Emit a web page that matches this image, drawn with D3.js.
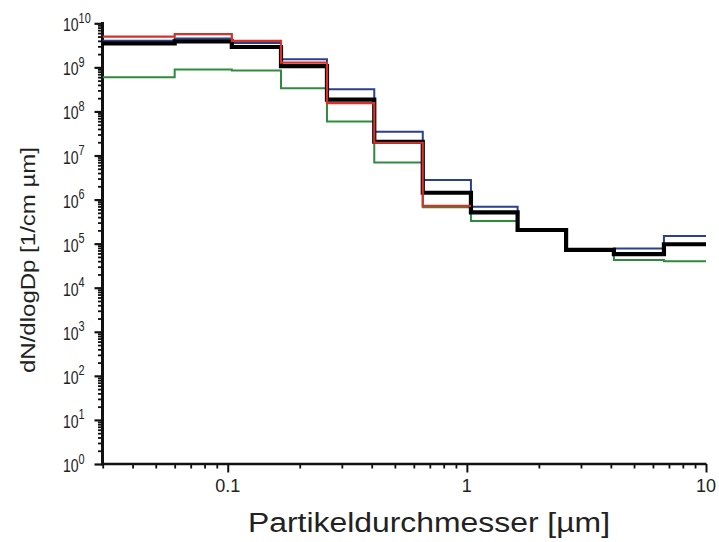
<!DOCTYPE html>
<html>
<head>
<meta charset="utf-8">
<script src="https://cdn.jsdelivr.net/npm/d3@7"></script>
<style>
  body { margin: 0; background: #fff; }
  svg { display: block; font-family: "Liberation Sans", Arial, sans-serif; }
</style>
</head>
<body>
<svg id="chart" width="719" height="542"></svg>
<script>
// bin edges of the impactor stages [µm]
var binEdges = [0.03, 0.06, 0.104, 0.167, 0.26, 0.41, 0.654, 1.04, 1.63, 2.6, 4.12, 6.67, 10];

// dN/dlogDp per stage, one array per series
var greenValues = [5.95e8, 9.0e8, 8.5e8, 3.35e8, 5.9e7, 6.9e6, 6.7e5, 3.27e5, 2.04e5, 7.2e4, 4.25e4, 4.0e4];
var blueValues  = [4.0e9, 4.5e9, 3.55e9, 1.52e9, 3.2e8, 3.47e7, 2.77e6, 6.9e5, 2.04e5, 7.2e4, 7.8e4, 1.49e5];
var blackValues = [3.5e9, 3.9e9, 2.9e9, 1.07e9, 1.85e8, 2.05e7, 1.43e6, 5.1e5, 2.04e5, 7.2e4, 5.8e4, 9.7e4];
var redValues   = [5.0e9, 5.7e9, 4.0e9, 1.28e9, 1.55e8, 1.95e7, 7.2e5];

var xMajorTicks = [0.1, 1, 10];
var xTickLabels = ["0.1", "1", "10"];
var yExponents = [0, 1, 2, 3, 4, 5, 6, 7, 8, 9, 10];

var svg = d3.select("#chart");

var x = d3.scaleLog().domain([0.03, 10]).range([102.7, 706]);
var y = d3.scaleLog().domain([1, 1e10]).range([464, 23.3]);

var textColor = "#222";

// minor tick values for the x axis (2..9 of each decade inside the domain)
var xMinor = [];
[0.01, 0.1, 1].forEach(function (dec) {
    for (var k = 2; k <= 9; k++) {
        var v = +(k * dec).toPrecision(3);
        if (v >= 0.03 && v <= 10) { xMinor.push(v); }
    }
});

var yMinor = [];
yExponents.slice(0, -1).forEach(function (e) {
    for (var k = 2; k <= 9; k++) { yMinor.push(k * Math.pow(10, e)); }
});
var yMajor = yExponents.map(function (e) { return Math.pow(10, e); });

/////////////
// axes
/////////////

function styleAxis(g, width) {
    g.select(".domain").remove();
    g.selectAll(".tick line").attr("stroke", "#111").attr("stroke-width", width);
    g.selectAll(".tick text").remove();
}

svg.append("g")
    .attr("transform", "translate(0,464)")
    .call(d3.axisBottom(x).tickValues(xMinor).tickSize(4.5))
    .call(styleAxis, 1.8);

svg.append("g")
    .attr("transform", "translate(0,464)")
    .call(d3.axisBottom(x).tickValues(xMajorTicks).tickSize(8.5))
    .call(styleAxis, 2);

svg.append("g")
    .attr("transform", "translate(102.5,0)")
    .call(d3.axisLeft(y).tickValues(yMinor).tickSize(4.5))
    .call(styleAxis, 1.8);

svg.append("g")
    .attr("transform", "translate(102.5,0)")
    .call(d3.axisLeft(y).tickValues(yMajor).tickSize(8))
    .call(styleAxis, 2.2);

// axis lines
svg.append("line")
    .attr("x1", 101).attr("x2", 706.5)
    .attr("y1", 464).attr("y2", 464)
    .attr("stroke", "#111").attr("stroke-width", 2.6);

svg.append("line")
    .attr("x1", 102.5).attr("x2", 102.5)
    .attr("y1", 22).attr("y2", 465.3)
    .attr("stroke", "#111").attr("stroke-width", 3);

// x tick labels
svg.selectAll(".xlab")
    .data(xMajorTicks)
    .enter()
    .append("text")
        .attr("class", "xlab")
        .attr("x", function (d) { return x(d); })
        .attr("y", 492)
        .attr("text-anchor", "middle")
        .attr("font-size", 18)
        .attr("fill", textColor)
        .text(function (d, i) { return xTickLabels[i]; });

// y tick labels 10^n, one text each, squeezed like the original
var ylab = svg.selectAll(".ylab")
    .data(yExponents)
    .enter()
    .append("text")
        .attr("class", "ylab")
        .attr("transform", function (d) { return "translate(63," + (y(Math.pow(10, d)) + 8) + ") scale(0.78,1)"; })
        .attr("font-size", 18)
        .attr("fill", textColor);

ylab.append("tspan").text("10");
ylab.append("tspan")
    .attr("font-size", 14)
    .attr("dy", -8.5)
    .text(function (d) { return d; });

// axis titles
svg.append("text")
    .attr("x", 429)
    .attr("y", 532)
    .attr("text-anchor", "middle")
    .attr("font-size", 27)
    .attr("textLength", 362)
    .attr("lengthAdjust", "spacingAndGlyphs")
    .attr("fill", textColor)
    .text("Partikeldurchmesser [µm]");

svg.append("text")
    .attr("transform", "translate(35,260) rotate(-90)")
    .attr("text-anchor", "middle")
    .attr("font-size", 20)
    .attr("textLength", 226)
    .attr("lengthAdjust", "spacingAndGlyphs")
    .attr("fill", textColor)
    .text("dN/dlogDp [1/cm µm]");

/////////////
// step lines
/////////////

var stepLine = d3.line()
    .x(function (d) { return x(d[0]); })
    .y(function (d) { return y(d[1]); })
    .curve(d3.curveStepAfter);

function stepPoints(values) {
    var pts = values.map(function (v, i) { return [binEdges[i], v]; });
    pts.push([binEdges[values.length], values[values.length - 1]]);
    return pts;
}

var series = [
    { values: greenValues, color: "#2e8b3e", width: 2 },
    { values: blueValues,  color: "#2b3f8f", width: 2 },
    { values: blackValues, color: "#000000", width: 4.2 },
    { values: redValues,   color: "#d8312a", width: 2.2 }
];

svg.append("g")
    .selectAll("path")
    .data(series)
    .enter()
    .append("path")
        .attr("fill", "none")
        .attr("stroke", function (d) { return d.color; })
        .attr("stroke-width", function (d) { return d.width; })
        .attr("d", function (d) { return stepLine(stepPoints(d.values)); });
</script>
</body>
</html>
